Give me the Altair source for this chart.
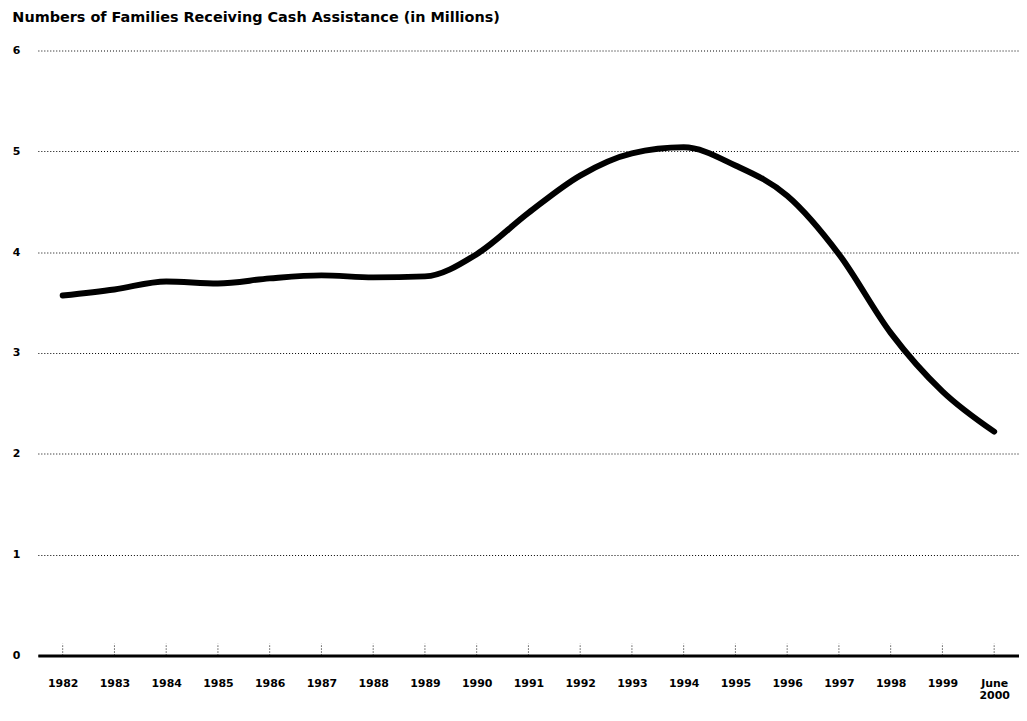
import altair as alt
import pandas as pd

years = ["1982", "1983", "1984", "1985", "1986", "1987", "1988", "1989", "1990",
         "1991", "1992", "1993", "1994", "1995", "1996", "1997", "1998", "1999",
         "June 2000"]
families = [3.57, 3.63, 3.71, 3.69, 3.74, 3.77, 3.75, 3.76, 3.98,
            4.39, 4.76, 4.98, 5.04, 4.86, 4.56, 3.98, 3.20, 2.62, 2.22]
y_ticks = [0, 1, 2, 3, 4, 5, 6]
title_text = "Numbers of Families Receiving Cash Assistance (in Millions)"

df = pd.DataFrame({"year": years, "families": families})

FONT = "DejaVu Sans"

x_enc = alt.X(
    "year:N", sort=years,
    scale=alt.Scale(type="point", padding=0.48),
    axis=alt.Axis(
        title=None, labelAngle=0, labelFont=FONT, labelFontWeight="bold",
        labelFontSize=11, labelColor="black", labelPadding=22,
        labelBaseline="top", ticks=False, domain=True, domainColor="black",
        domainWidth=3,
        labelExpr="datum.value == 'June 2000' ? ['June', '2000'] : datum.value",
        labelLineHeight=12, grid=False,
    ),
)
y_enc = alt.Y(
    "families:Q",
    scale=alt.Scale(domain=[0, 6], nice=False),
    axis=alt.Axis(
        title=None, values=y_ticks, format="d", ticks=False, domain=False,
        grid=True, gridDash=[1, 2], gridColor="black", gridWidth=1,
        labelFont=FONT, labelFontWeight="bold", labelFontSize=11,
        labelColor="black", labelPadding=18,
    ),
)

line = alt.Chart(df).mark_line(
    color="black", strokeWidth=6, interpolate="monotone",
    strokeCap="round", strokeJoin="round",
).encode(x=x_enc, y=y_enc)

ticks = alt.Chart(df).mark_rule(
    color="black", strokeDash=[1, 2], strokeWidth=1,
).encode(
    x=alt.X("year:N", sort=years),
    y=alt.datum(0),
    y2=alt.datum(0.12),
)

chart = alt.layer(line, ticks).properties(
    width=986,
    height=608,
    padding={"left": 4, "top": 0, "right": 0, "bottom": 0},
    background="white",
    title=alt.TitleParams(
        text=title_text, anchor="start", font=FONT, fontSize=14.5,
        fontWeight="bold", color="black", offset=19,
    ),
).configure_view(strokeWidth=0, stroke="transparent").configure_axisX(
    grid=False
).configure_axisY(domain=False, ticks=False)

chart.save("out.html", embed_options={"renderer": "svg", "actions": False})
